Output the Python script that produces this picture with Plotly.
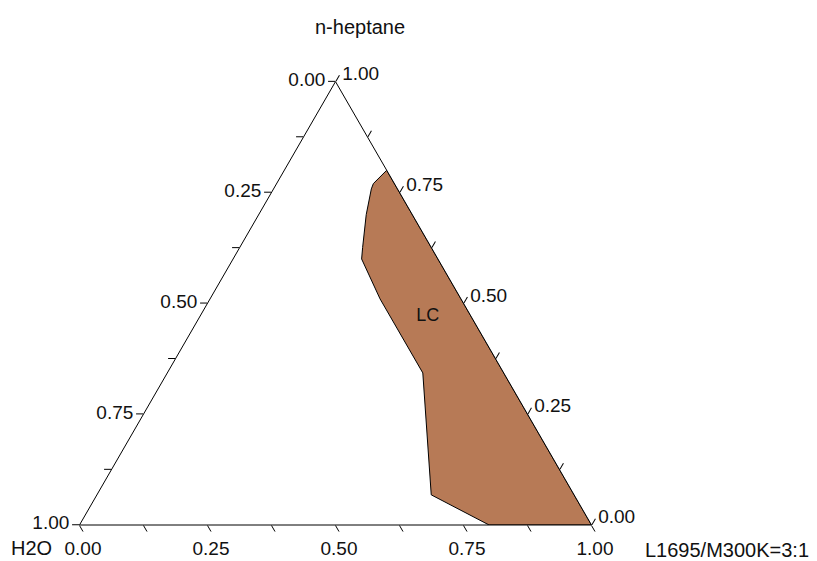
import plotly.graph_objects as go

# Phase region "LC" in the n-heptane / H2O / L1695-M300K (3:1) system (mass fractions)
heptane = [0.80, 0.770, 0.758, 0.700, 0.626, 0.600, 0.510, 0.343, 0.068, 0.000, 0.000, 0.80]
water   = [0.00, 0.041, 0.051, 0.090, 0.134, 0.149, 0.158, 0.158, 0.279, 0.200, 0.000, 0.00]
surf    = [0.20, 0.189, 0.191, 0.210, 0.240, 0.251, 0.332, 0.499, 0.653, 0.800, 1.000, 0.20]

region_label = "LC"
label_pos = {"heptane": 0.47, "water": 0.085, "surf": 0.445}

tick_vals = [0, 0.125, 0.25, 0.375, 0.5, 0.625, 0.75, 0.875, 1.0]
# Each edge is labelled with the fraction of the component that grows clockwise along it
tick_text = [f"{1 - v:.2f}" if (round(v * 8) % 2 == 0) else "" for v in tick_vals]

FONT = "Liberation Sans, Arial, sans-serif"
TXT = "#111111"
W, H = 817, 561

fig = go.Figure()
fig.add_trace(go.Scatterternary(
    a=heptane, b=water, c=surf,
    mode="lines", fill="toself",
    fillcolor="#B77A56",
    line=dict(color="black", width=1),
    hoverinfo="skip", showlegend=False,
))
fig.add_trace(go.Scatterternary(
    a=[label_pos["heptane"]], b=[label_pos["water"]], c=[label_pos["surf"]],
    mode="text", text=[region_label],
    textfont=dict(family=FONT, size=18, color=TXT),
    hoverinfo="skip", showlegend=False,
))

axis_common = dict(
    tickvals=tick_vals, ticktext=tick_text,
    ticks="outside", ticklen=7, tickcolor="black", tickwidth=1,
    linecolor="black", linewidth=1,
    showgrid=False,
    tickfont=dict(family=FONT, size=19, color=TXT),
    title=dict(text=""),
)

side = 512.0
x0 = 335.5 - side / 2
x1 = 335.5 + side / 2
bottom = 525.0
top = bottom - side * 3 ** 0.5 / 2

def corner_label(text, px, py):
    return dict(text=text, x=px / W, y=1 - py / H, xref="paper", yref="paper",
                xanchor="center", yanchor="middle", showarrow=False,
                font=dict(family=FONT, size=20, color=TXT))

fig.update_layout(
    width=W, height=H,
    margin=dict(l=0, r=0, t=0, b=0),
    paper_bgcolor="white",
    plot_bgcolor="white",
    font=dict(family=FONT, color=TXT),
    ternary=dict(
        sum=1,
        bgcolor="white",
        domain=dict(x=[x0 / W, x1 / W], y=[(H - bottom) / H, (H - top) / H]),
        aaxis=axis_common,
        baxis=axis_common,
        caxis=axis_common,
    ),
    annotations=[
        corner_label("n-heptane", 360, 27),
        corner_label("H2O", 31, 548),
        corner_label("L1695/M300K=3:1", 727, 550),
    ],
)

fig.write_html("out.html")
